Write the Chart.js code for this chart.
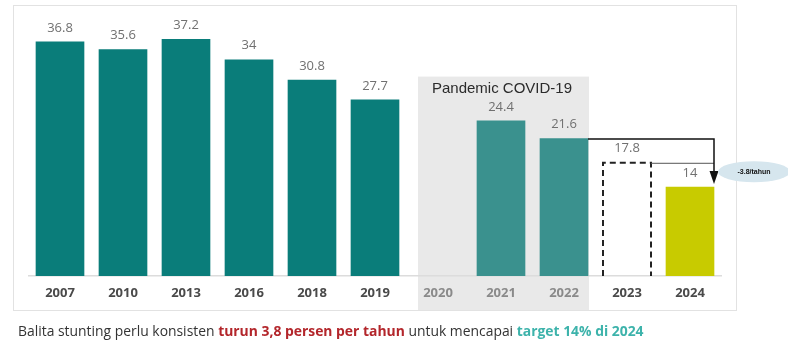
<!DOCTYPE html>
<html>
<head>
<meta charset="utf-8">
<script src="https://cdn.jsdelivr.net/npm/chart.js@4.4.1/dist/chart.umd.min.js"></script>
<style>
  html, body { margin: 0; padding: 0; background: #fff; }
  #wrap { position: relative; width: 788px; height: 342px; overflow: hidden; }
  #frame { position: absolute; left: 13px; top: 5px; width: 722px; height: 304px; border: 1px solid #e2e2e2; }
  canvas { position: absolute; left: 0; top: 0; }
  #caption {
    position: absolute; left: 18px; top: 321px;
    font-family: "Open Sans", sans-serif; font-size: 13.9px; color: #333; white-space: nowrap;
  }
  #caption .red { color: #b3262b; font-weight: bold; }
  #caption .teal { color: #3db3ab; font-weight: bold; }
</style>
</head>
<body>
<div id="wrap">
  <div id="frame"></div>
  <canvas id="stuntingChart" width="788" height="342"></canvas>
  <div id="caption">Balita stunting perlu konsisten <span class="red">turun 3,8 persen per tahun</span> untuk mencapai <span class="teal">target 14% di 2024</span></div>
</div>
<script>
// data
const years = ['2007', '2010', '2013', '2016', '2018', '2019', '2020', '2021', '2022', '2023', '2024'];
const stunting = [36.8, 35.6, 37.2, 34, 30.8, 27.7, null, 24.4, 21.6, 17.8, 14];
const pandemicYears = ['2020', '2021', '2022'];
const targetYear = '2023';
const goalYear = '2024';
const pandemicLabel = 'Pandemic COVID-19';
const dropLabel = '-3.8/tahun';

// warna per batang
const barColors = years.map(y => {
    if (y === goalYear) return '#c8cb00';
    if (y === targetYear) return 'rgba(0,0,0,0)';
    if (pandemicYears.includes(y)) return '#3a918e';
    return '#0a7d7a';
});

// kotak abu-abu pandemi di belakang sumbu dan batang
const pandemicBox = {
    id: 'pandemicBox',
    beforeDraw(chart) {
        const ctx = chart.ctx;
        const x = chart.scales.x;
        const area = chart.chartArea;
        const i0 = years.indexOf(pandemicYears[0]);
        const i1 = years.indexOf(pandemicYears[pandemicYears.length - 1]);
        const left = x.getPixelForValue(i0) - 20;
        const right = x.getPixelForValue(i1) + 25;
        const top = area.top + 55;
        ctx.save();
        ctx.fillStyle = '#e9e9e9';
        ctx.fillRect(left, top, right - left, 310 - top);
        ctx.fillStyle = '#2b2b2b';
        ctx.font = '15px "Liberation Sans", Arial, sans-serif';
        ctx.textBaseline = 'middle';
        ctx.fillText(pandemicLabel, left + 14, top + 12);
        ctx.restore();
    }
};

// label nilai, kotak putus-putus, panah
const annotations = {
    id: 'annotations',
    afterDatasetsDraw(chart) {
        const ctx = chart.ctx;
        const bars = chart.getDatasetMeta(0).data;
        ctx.save();

        // kotak target 2023
        const t = bars[years.indexOf(targetYear)];
        const tl = t.x - t.width / 2, tr = t.x + t.width / 2;
        ctx.strokeStyle = '#222';
        ctx.lineWidth = 2;
        ctx.setLineDash([6, 4]);
        ctx.beginPath();
        ctx.moveTo(tl, t.base);
        ctx.lineTo(tl, t.y);
        ctx.lineTo(tr, t.y);
        ctx.lineTo(tr, t.base);
        ctx.stroke();
        ctx.setLineDash([]);

        // nilai di atas batang
        ctx.fillStyle = '#707070';
        ctx.font = '13px "Open Sans", sans-serif';
        ctx.textAlign = 'center';
        ctx.textBaseline = 'middle';
        bars.forEach((b, i) => {
            if (stunting[i] === null) return;
            ctx.fillText(String(stunting[i]), b.x, b.y - 14);
        });

        // garis & panah dari 2022 ke 2024
        const a = bars[years.indexOf('2022')];
        const g = bars[years.indexOf(goalYear)];
        const gx = g.x + g.width / 2;
        ctx.strokeStyle = '#555';
        ctx.lineWidth = 1;
        ctx.beginPath();
        ctx.moveTo(tr, t.y + 0.5);
        ctx.lineTo(gx, t.y + 0.5);
        ctx.stroke();

        ctx.strokeStyle = '#111';
        ctx.lineWidth = 1.5;
        ctx.beginPath();
        ctx.moveTo(a.x + a.width / 2, a.y + 0.5);
        ctx.lineTo(gx, a.y + 0.5);
        ctx.lineTo(gx, g.y - 14);
        ctx.stroke();
        ctx.fillStyle = '#111';
        ctx.beginPath();
        ctx.moveTo(gx - 4.5, g.y - 16);
        ctx.lineTo(gx + 4.5, g.y - 16);
        ctx.lineTo(gx, g.y - 3);
        ctx.closePath();
        ctx.fill();

        // elips -3.8/tahun
        const ey = (a.y + g.y) / 2 + 9;
        ctx.fillStyle = '#d6e6ee';
        ctx.beginPath();
        ctx.ellipse(gx + 40, ey, 36, 10.5, 0, 0, Math.PI * 2);
        ctx.fill();
        ctx.fillStyle = '#111';
        ctx.font = 'bold 7px "Liberation Sans", Arial, sans-serif';
        ctx.fillText(dropLabel, gx + 40, ey);

        ctx.restore();
    }
};

const chart = new Chart(document.getElementById('stuntingChart'), {
    type: 'bar',
    data: {
        labels: years,
        datasets: [{
            data: stunting,
            backgroundColor: barColors,
            borderWidth: 0,
            barThickness: 48
        }]
    },
    options: {
        responsive: false,
        animation: false,
        events: [],
        layout: { padding: { left: 28.5, right: 66.5, top: 21.6, bottom: 32 } },
        plugins: {
            legend: { display: false },
            tooltip: { enabled: false }
        },
        scales: {
            y: { display: false, min: 0, max: 40 },
            x: {
                grid: { display: false, drawTicks: false },
                border: { display: true, color: '#dcdcdc', width: 1.5 },
                afterFit(scale) { scale.height = 34; },
                ticks: {
                    padding: 9,
                    font: { family: '"Open Sans", sans-serif', size: 13, weight: 'bold' },
                    color: (c) => pandemicYears.includes(years[c.index]) ? '#8a8a8a' : '#4a4a4a'
                }
            }
        }
    },
    plugins: [pandemicBox, annotations]
});
</script>
</body>
</html>
